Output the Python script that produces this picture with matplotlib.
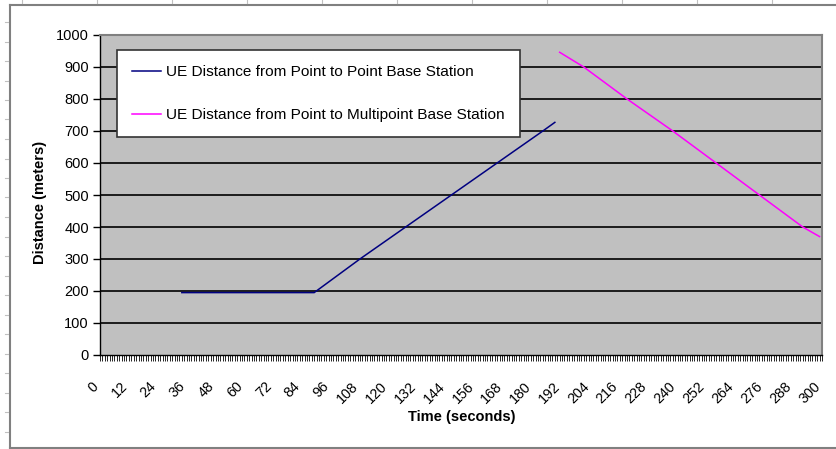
import matplotlib
matplotlib.use('Agg')
import matplotlib.pyplot as plt
from matplotlib.lines import Line2D
from matplotlib.transforms import ScaledTranslation
import numpy as np

# values (time in seconds, distance in meters)
p2p_time = [34, 89, 108, 127, 146, 165, 184, 189]
p2p_dist = [195, 195, 300, 400, 500, 600, 700, 727]
p2mp_time = [191, 201, 219, 238, 256, 274, 292, 299]
p2mp_dist = [946, 900, 800, 700, 600, 500, 400, 370]

time_ticks = [0, 12, 24, 36, 48, 60, 72, 84, 96, 108, 120, 132, 144, 156,
              168, 180, 192, 204, 216, 228, 240, 252, 264, 276, 288, 300]
dist_ticks = [0, 100, 200, 300, 400, 500, 600, 700, 800, 900, 1000]

p2p_label = 'UE Distance from Point to Point Base Station'
p2mp_label = 'UE Distance from Point to Multipoint Base Station'

plt.rcParams['font.family'] = ['Liberation Sans', 'DejaVu Sans']

W, H = 837, 449
fig = plt.figure(figsize=(W / 100, H / 100), dpi=100)

# page frame around the chart
frame = '#808080'
fig.add_artist(Line2D([10 / W, 10 / W], [0, 1 - 5 / H], color=frame, lw=1.5))
fig.add_artist(Line2D([10 / W, 1], [1 - 5 / H, 1 - 5 / H], color=frame, lw=1.5))
fig.add_artist(Line2D([10 / W, 1], [1.5 / H, 1.5 / H], color=frame, lw=1.5))
for yy in np.arange(22, H, 19.5):
    fig.add_artist(Line2D([5 / W, 8 / W], [1 - yy / H, 1 - yy / H], color='#c0c0c0', lw=0.8))
for xx in np.arange(22, W, 75):
    fig.add_artist(Line2D([xx / W, xx / W], [1, 1 - 3 / H], color='#c0c0c0', lw=0.8))

ax = fig.add_axes([100 / W, 1 - 355 / H, 722 / W, 320 / H])
ax.set_facecolor('#c0c0c0')
ax.set_xlim(0, 300)
ax.set_ylim(0, 1000)

ax.hlines(dist_ticks[1:-1], 0, 300, colors='black', lw=1.2, zorder=1)

ax.plot(p2p_time, p2p_dist, color='#000080', lw=1.1, label=p2p_label, zorder=3)
ax.plot(p2mp_time, p2mp_dist, color='#ff00ff', lw=1.1, label=p2mp_label, zorder=3)

for s in ['left', 'bottom']:
    ax.spines[s].set_color('black')
    ax.spines[s].set_linewidth(1.0)
for s in ['top', 'right']:
    ax.spines[s].set_color('#808080')
    ax.spines[s].set_linewidth(1.5)

ax.set_yticks(dist_ticks)
ax.set_yticklabels([str(v) for v in dist_ticks])
ax.tick_params(axis='y', direction='out', length=5, width=1, labelsize=10.5, pad=3)

ax.set_xticks(time_ticks)
ax.set_xticks(np.arange(0, 301, 1), minor=True)
ax.set_xticklabels([str(t) for t in time_ticks], rotation=45, ha='right',
                   va='center', rotation_mode='anchor')
ax.tick_params(axis='x', which='both', direction='out', length=4, width=0.6,
               labelsize=10.3, pad=17)
shift = ScaledTranslation(-4 / 100, 0, fig.dpi_scale_trans)
for lab in ax.get_xticklabels():
    lab.set_transform(lab.get_transform() + shift)

fig.text(462 / W, 1 - 417 / H, 'Time (seconds)', ha='center', va='center',
         fontsize=10.5, fontweight='bold')
fig.text(40 / W, 1 - 202 / H, 'Distance (meters)', ha='center', va='center',
         rotation=90, fontsize=10.5, fontweight='bold')

leg = ax.legend(loc='upper left', bbox_to_anchor=(117 / W, 1 - 50 / H),
                bbox_transform=fig.transFigure, borderaxespad=0, fontsize=11.1,
                handlelength=1.85, handletextpad=0.3, borderpad=1.0,
                labelspacing=1.85, fancybox=False, framealpha=1)
leg.get_frame().set_edgecolor('#333333')
leg.get_frame().set_linewidth(1.2)

fig.savefig('out.png', dpi=100)
